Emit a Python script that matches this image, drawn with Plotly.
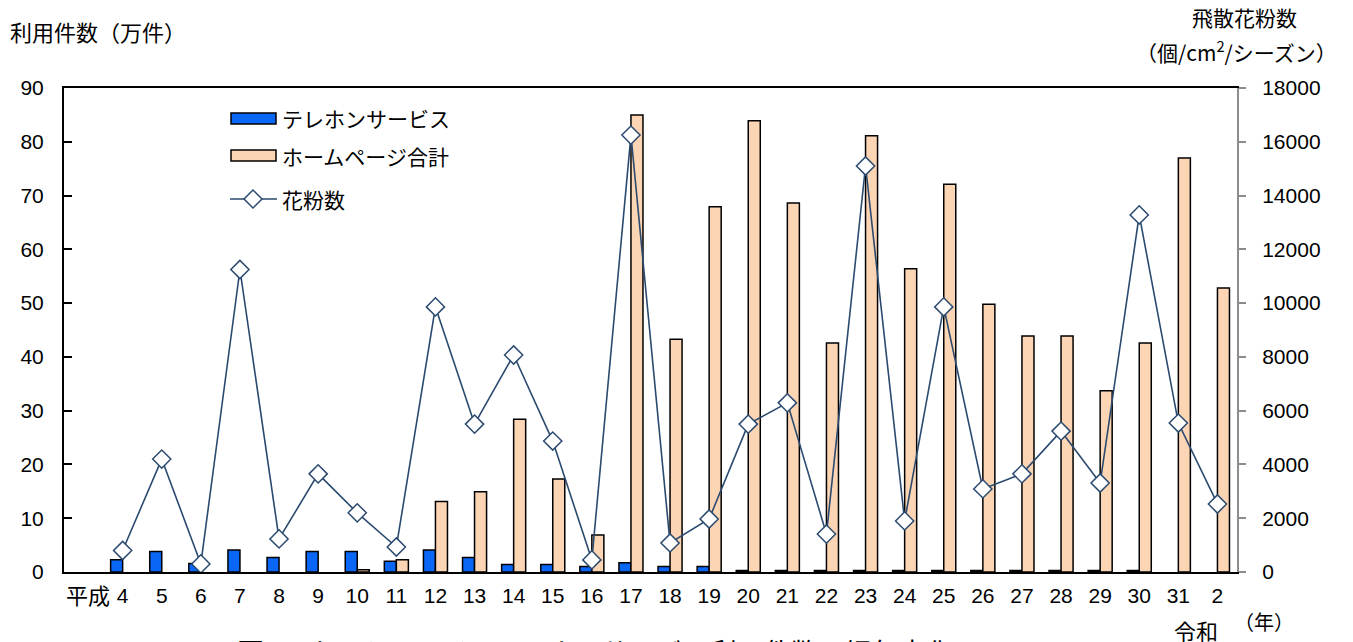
import plotly.graph_objects as go

# Fiscal years: first slot (平成3) left empty, then 平成4–31 and 令和2
year_labels = ["", "4", "5", "6", "7", "8", "9", "10", "11", "12", "13", "14", "15", "16",
               "17", "18", "19", "20", "21", "22", "23", "24", "25", "26", "27", "28",
               "29", "30", "31", "2"]

# Telephone service usage (10k cases)
telephone = [None, 2.3, 3.8, 1.6, 4.1, 2.7, 3.8, 3.8, 2.0, 4.1, 2.7, 1.4, 1.4, 1.0,
             1.7, 1.0, 1.0, 0.3, 0.3, 0.3, 0.3, 0.3, 0.3, 0.3, 0.3, 0.3, 0.3, 0.3,
             None, None]

# Homepage total usage (10k cases)
homepage = [None, None, None, None, None, None, None, 0.4, 2.3, 13.1, 14.9, 28.4, 17.3, 6.9,
            85.0, 43.3, 67.9, 83.9, 68.6, 42.6, 81.1, 56.4, 72.1, 49.8, 43.9, 43.9,
            33.7, 42.6, 77.0, 52.8]

# Airborne pollen count (grains/cm2/season)
pollen = [None, 800, 4200, 300, 11250, 1230, 3650, 2200, 930, 9860, 5500, 8070, 4870, 450,
          16250, 1080, 1970, 5500, 6290, 1410, 15100, 1900, 9860, 3090, 3650, 5240,
          3310, 13280, 5540, 2530]

x_idx = list(range(len(year_labels)))

BLUE = "#0A66F5"
PEACH = "#FCD5B4"
LINE = "#2B4A6F"
JP = "Noto Sans CJK JP"
NUM = "Liberation Sans, Arial, sans-serif"

W, H = 1353, 642
L, R, T, B = 64, 1237, 88, 572


def px(xp):
    return (xp - L) / (R - L)


def py(yp):
    return (B - yp) / (B - T)


fig = go.Figure()

fig.add_trace(go.Bar(
    x=x_idx, y=telephone, name="テレホンサービス",
    marker=dict(color=BLUE, line=dict(color="black", width=1.5)),
    showlegend=False,
))
fig.add_trace(go.Bar(
    x=x_idx, y=homepage, name="ホームページ合計",
    marker=dict(color=PEACH, line=dict(color="black", width=1.5)),
    showlegend=False,
))
fig.add_trace(go.Scatter(
    x=x_idx, y=pollen, name="花粉数", yaxis="y2", mode="lines+markers",
    line=dict(color=LINE, width=1.6),
    marker=dict(symbol="diamond", size=14, color="white",
                line=dict(color=LINE, width=1.5)),
    connectgaps=False, showlegend=False,
))

fig.update_layout(
    width=W, height=H,
    margin=dict(l=L, r=W - R, t=T, b=H - B, pad=0),
    paper_bgcolor="white", plot_bgcolor="white",
    barmode="group", bargap=0.385, bargroupgap=0,
    font=dict(family=NUM, size=21, color="black"),
    xaxis=dict(
        range=[-0.5, len(year_labels) - 0.5],
        tickmode="array", tickvals=x_idx, ticktext=year_labels,
        showline=True, linecolor="black", linewidth=2, mirror=True,
        ticks="", showgrid=False, zeroline=False,
        tickfont=dict(family=NUM, size=21),
        ticklabelstandoff=4,
    ),
    yaxis=dict(
        range=[0, 90], dtick=10, tick0=0,
        showline=True, linecolor="black", linewidth=2,
        ticks="inside", ticklen=8, tickwidth=2, tickcolor="black",
        showgrid=False, zeroline=False,
        tickfont=dict(family=NUM, size=21),
        ticklabelstandoff=14,
    ),
    yaxis2=dict(
        range=[0, 18000], dtick=2000, tick0=0, tickformat="d",
        overlaying="y", side="right",
        showline=True, linecolor="#8C8C8C", linewidth=2,
        ticks="outside", ticklen=7, tickwidth=1.5, tickcolor="#8C8C8C",
        showgrid=False, zeroline=False,
        tickfont=dict(family=NUM, size=21),
        ticklabelstandoff=12,
    ),
)

ann = []


def text(s, xp, yp, size=21, xanchor="center", yanchor="middle", family=JP):
    ann.append(dict(text=s, x=px(xp), y=py(yp), xref="paper", yref="paper",
                    xanchor=xanchor, yanchor=yanchor, showarrow=False,
                    font=dict(family=family, size=size, color="black")))


# Axis titles and era labels
text("利用件数（万件）", 8, 31, size=22, xanchor="left")
text("飛散花粉数", 1244, 17, size=21)
text("（個/cm<sup>2</sup>/シーズン）", 1236, 51, size=21)
text("平成", 88, 594, size=22)
text("令和", 1196, 630, size=22)
text("（年）", 1264, 621, size=20)
text("図2　ホームページ・テレホンサービス利用件数の経年変化", 235, 630, size=27,
     xanchor="left", yanchor="top")

# Hand-built legend
shapes = []
shapes.append(dict(type="rect", xref="paper", yref="paper",
                   x0=px(231), x1=px(276), y0=py(124), y1=py(113),
                   fillcolor=BLUE, line=dict(color="black", width=1.5)))
shapes.append(dict(type="rect", xref="paper", yref="paper",
                   x0=px(231), x1=px(276), y0=py(161), y1=py(150),
                   fillcolor=PEACH, line=dict(color="black", width=1.5)))
shapes.append(dict(type="line", xref="paper", yref="paper",
                   x0=px(230), x1=px(277), y0=py(199), y1=py(199),
                   line=dict(color=LINE, width=1.6)))
cx, cy, r = 253, 199, 9
shapes.append(dict(type="path", xref="paper", yref="paper",
                   path=(f"M {px(cx - r)} {py(cy)} L {px(cx)} {py(cy - r)} "
                         f"L {px(cx + r)} {py(cy)} L {px(cx)} {py(cy + r)} Z"),
                   fillcolor="white", line=dict(color=LINE, width=1.5)))

text("テレホンサービス", 280, 118, size=21, xanchor="left")
text("ホームページ合計", 280, 156, size=21, xanchor="left")
text("花粉数", 280, 199, size=21, xanchor="left")

fig.update_layout(annotations=ann, shapes=shapes)

fig.write_html("out.html")
